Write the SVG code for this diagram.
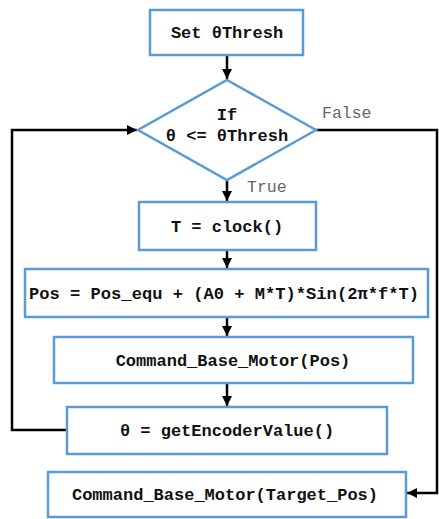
<svg xmlns="http://www.w3.org/2000/svg" width="439" height="519" viewBox="0 0 439 519">
  <defs>
    <marker id="arrow" viewBox="0 0 10 10" refX="10" refY="5" markerWidth="4" markerHeight="4" orient="auto" markerUnits="strokeWidth">
      <path d="M0,0 L10,5 L0,10 Z" fill="#000"/>
    </marker>
    <style>
      .box { fill: #fff; stroke: #5b9bd5; stroke-width: 2.5; }
      .lbl { font-family: "Liberation Mono", "Courier New", monospace; font-weight: bold; font-size: 17px; fill: #111; text-anchor: middle; }
      .cond { font-family: "Liberation Mono", "Courier New", monospace; font-size: 16.5px; fill: #666; }
      .wire { fill: none; stroke: #000; stroke-width: 2.5; }
    </style>
  </defs>
  <rect width="439" height="519" fill="#fff"/>

  <g id="connectors">
    <line class="wire" x1="227" y1="55" x2="227" y2="79" marker-end="url(#arrow)"/>
    <line class="wire" x1="227" y1="180" x2="227" y2="201" marker-end="url(#arrow)"/>
    <line class="wire" x1="227" y1="250" x2="227" y2="268" marker-end="url(#arrow)"/>
    <line class="wire" x1="227" y1="317" x2="227" y2="336" marker-end="url(#arrow)"/>
    <line class="wire" x1="227" y1="383" x2="227" y2="406" marker-end="url(#arrow)"/>
    <polyline class="wire" points="67,430 12,430 12,130 137,130" marker-end="url(#arrow)"/>
    <polyline class="wire" points="316,130 437,130 437,493 407,493" marker-end="url(#arrow)"/>
    <text class="cond" x="322" y="118">False</text>
    <text class="cond" x="247" y="192">True</text>
  </g>

  <g id="set-thresh">
    <rect class="box" x="150" y="10" width="153" height="45"/>
    <text class="lbl" x="227" y="38">Set θThresh</text>
  </g>

  <g id="decision">
    <polygon class="box" points="227,80 316,130 227,180 138,130"/>
    <text class="lbl" x="227" y="120">If</text>
    <text class="lbl" x="227" y="141">θ &lt;= θThresh</text>
  </g>

  <g id="clock">
    <rect class="box" x="139" y="202" width="177" height="48"/>
    <text class="lbl" x="227" y="232">T = clock()</text>
  </g>

  <g id="position">
    <rect class="box" x="25" y="269" width="403" height="48"/>
    <text class="lbl" x="224" y="299" textLength="390" lengthAdjust="spacingAndGlyphs">Pos = Pos_equ + (A0 + M*T)*Sin(2π*f*T)</text>
  </g>

  <g id="command-pos">
    <rect class="box" x="54" y="337" width="359" height="46"/>
    <text class="lbl" x="233" y="366">Command_Base_Motor(Pos)</text>
  </g>

  <g id="encoder">
    <rect class="box" x="67" y="407" width="320" height="47"/>
    <text class="lbl" x="227" y="436">θ = getEncoderValue()</text>
  </g>

  <g id="command-target">
    <rect class="box" x="48" y="472" width="358" height="45"/>
    <text class="lbl" x="225" y="500">Command_Base_Motor(Target_Pos)</text>
  </g>
</svg>
